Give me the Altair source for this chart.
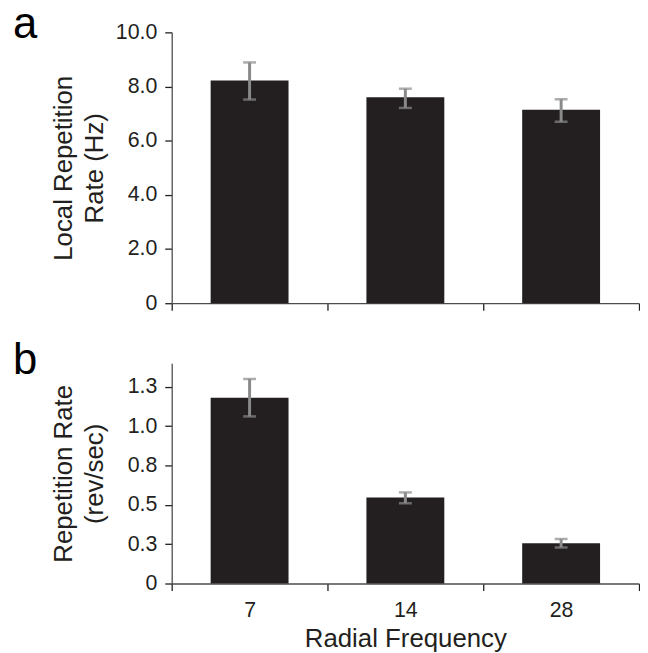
import altair as alt
import pandas as pd

# ---- data ----
categories = ["7", "14", "28"]
local_rate = [8.22, 7.60, 7.14]
local_low = [7.52, 7.21, 6.70]
local_high = [8.89, 7.92, 7.53]
rep_rate = [1.18, 0.546, 0.256]
rep_low = [1.062, 0.510, 0.229]
rep_high = [1.30, 0.579, 0.283]
local_ticks = [0, 2, 4, 6, 8, 10]
rep_ticks = [0, 0.25, 0.5, 0.75, 1.0, 1.25]
panel_letters = ["a", "b"]

FONT = "Liberation Sans"
BAR = "#231f20"
ERR = "#8a8a8a"
INK = "#231f20"
LFS = 21.5
TFS = 26

df_a = pd.DataFrame({"freq": categories, "value": local_rate, "low": local_low, "high": local_high})
df_b = pd.DataFrame({"freq": categories, "value": rep_rate, "low": rep_low, "high": rep_high})

W = 471
LABEL_EXPR = "datum.value == 0 ? '0' : format(datum.value, '.1f')"


def panel(df, ticks, dmax, title_lines, letter, height, bottom, title_pad, letter_y):
    xscale = alt.Scale(domain=categories, paddingInner=0, paddingOuter=0)
    yscale = alt.Scale(domain=[0, dmax], nice=False, zero=True)
    if bottom:
        xaxis = alt.Axis(tickBand="extent", labelAngle=0, labelPadding=9,
                         labelFontSize=LFS, title="Radial Frequency", titlePadding=5)
    else:
        xaxis = alt.Axis(tickBand="extent", labels=False, title=None)
    x = alt.X("freq:N", sort=categories, scale=xscale, axis=xaxis)
    yaxis = alt.Axis(values=ticks, labelExpr=LABEL_EXPR, title=title_lines,
                     labelFontSize=LFS, titlePadding=title_pad, titleLineHeight=31)
    bars = alt.Chart(df).mark_bar(color=BAR, width=alt.RelativeBandSize(0.5)).encode(
        x=x, y=alt.Y("value:Q", scale=yscale, axis=yaxis)
    )
    rule = alt.Chart(df).mark_rule(color=ERR, strokeWidth=3).encode(
        x=x, y=alt.Y("low:Q", scale=yscale, axis=yaxis), y2="high:Q"
    )
    cap_lo = alt.Chart(df).mark_tick(color=ERR, thickness=2.5, size=13).encode(
        x=x, y=alt.Y("low:Q", scale=yscale, axis=yaxis)
    )
    cap_hi = alt.Chart(df).mark_tick(color=ERR, thickness=2.5, size=13).encode(
        x=x, y=alt.Y("high:Q", scale=yscale, axis=yaxis)
    )
    lbl = alt.Chart(pd.DataFrame({"letter": [letter]})).mark_text(
        font=FONT, fontSize=44, align="left", baseline="alphabetic", color="#000000"
    ).encode(x=alt.value(-160), y=alt.value(letter_y), text="letter:N")
    return alt.layer(bars, rule, cap_lo, cap_hi, lbl).properties(width=W, height=height)


pa = panel(df_a, local_ticks, 10, ["Local Repetition", "Rate (Hz)"], panel_letters[0],
           273, False, 8, 6)
pb = panel(df_b, rep_ticks, 1.4, ["Repetition Rate", "(rev/sec)"], panel_letters[1],
           222, True, 20, 11)

chart = alt.vconcat(pa, pb, spacing=25.5).properties(
    padding={"left": 5, "top": -7, "right": 0, "bottom": 0}
).configure_view(stroke=None).configure_axis(
    grid=False,
    labelFont=FONT, titleFont=FONT,
    labelFontSize=LFS, titleFontSize=TFS, titleFontWeight="normal",
    labelColor=INK, titleColor=INK,
    domainColor="#4d4d4d", domainWidth=1.3,
    tickColor=INK, tickWidth=1.3, tickSize=7, labelPadding=8,
)

chart.save("out.html", embed_options={"renderer": "svg", "actions": False})
